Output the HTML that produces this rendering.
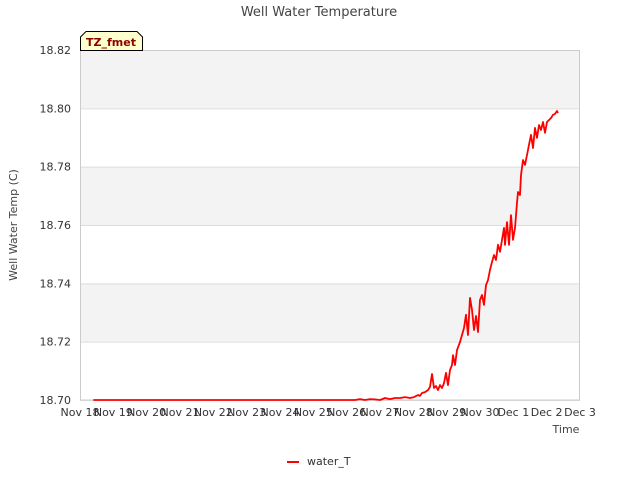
<!DOCTYPE html>
<html><head><meta charset="utf-8"><style>
body{margin:0;background:#fff;font-family:"Liberation Sans","DejaVu Sans",sans-serif}
svg text{font-family:"DejaVu Sans","Liberation Sans",sans-serif}
</style></head><body>
<svg id="chart" width="640" height="480" xmlns="http://www.w3.org/2000/svg">
<text x="319" y="16" text-anchor="middle" font-size="13" fill="#444">Well Water Temperature</text>
<g id="bands"></g>
<g id="grid"></g>
<rect x="80.5" y="50.5" width="499" height="349.5" fill="none" stroke="#ccc"/>
<g id="yticks"></g>
<g id="xticks"></g>
<text transform="translate(17,225) rotate(-90)" text-anchor="middle" font-size="11" fill="#444">Well Water Temp (C)</text>
<text x="566" y="433" text-anchor="middle" font-size="11" fill="#444">Time</text>
<g>
<path d="M80.5,50.5 L80.5,37 L86,31.5 L137,31.5 L142.5,37 L142.5,50.5 Z" fill="#ffffcc" stroke="#000"/>
<text x="111" y="46" text-anchor="middle" font-size="11" font-weight="bold" fill="#8b0000">TZ_fmet</text>
</g>
<path id="series" fill="none" stroke="#ff0000" stroke-width="1.8" stroke-linejoin="round"/>
<g>
<line x1="287" y1="462" x2="299" y2="462" stroke="#ff0000" stroke-width="2"/>
<text x="307" y="465" font-size="11" fill="#333">water_T</text>
</g>
</svg>
<script>
const xTickLabels=["Nov 18","Nov 19","Nov 20","Nov 21","Nov 22","Nov 23","Nov 24","Nov 25","Nov 26","Nov 27","Nov 28","Nov 29","Nov 30","Dec 1","Dec 2","Dec 3"];
const yTickValues=[18.70,18.72,18.74,18.76,18.78,18.80,18.82];
const days=[0.4,8.2,8.25,8.4,8.55,8.7,8.85,9.0,9.15,9.3,9.45,9.6,9.75,9.9,10.02,10.14,10.2,10.26,10.35,10.44,10.5,10.56,10.62,10.68,10.74,10.8,10.86,10.92,10.98,11.04,11.1,11.16,11.19,11.25,11.31,11.4,11.46,11.52,11.58,11.64,11.7,11.76,11.82,11.88,11.94,12.0,12.06,12.12,12.18,12.24,12.3,12.36,12.42,12.48,12.54,12.6,12.66,12.72,12.75,12.81,12.87,12.93,12.99,13.05,13.11,13.14,13.2,13.23,13.29,13.35,13.41,13.47,13.53,13.59,13.65,13.71,13.77,13.83,13.89,13.95,14.01,14.07,14.13,14.19,14.25,14.31,14.34];
const waterT=[18.7,18.7,18.7,18.7003,18.7,18.7003,18.7002,18.7,18.7007,18.7003,18.7007,18.7007,18.701,18.7007,18.701,18.7017,18.7014,18.7024,18.7027,18.7034,18.7045,18.7089,18.7041,18.7048,18.7034,18.7051,18.7041,18.7058,18.7093,18.7051,18.7103,18.712,18.7154,18.712,18.7171,18.7199,18.7223,18.7247,18.7292,18.7223,18.735,18.7309,18.724,18.7288,18.7233,18.7343,18.736,18.7326,18.7394,18.7411,18.7446,18.7473,18.7497,18.748,18.7532,18.7508,18.7549,18.759,18.7532,18.761,18.7532,18.7634,18.7549,18.759,18.7676,18.7713,18.7703,18.7771,18.7823,18.7806,18.784,18.7875,18.7909,18.7864,18.7933,18.7899,18.7943,18.7926,18.7953,18.7916,18.7953,18.796,18.7967,18.7978,18.7981,18.7991,18.7984];
const NS="http://www.w3.org/2000/svg";
const X0=80,X1=580,Y0=400,Y1=50;
const xs=d=>X0+(d/15)*(X1-X0);
const ys=v=>Y0-(v-18.70)/0.12*(Y0-Y1);
function mk(t,a,p){const e=document.createElementNS(NS,t);for(const k in a)e.setAttribute(k,a[k]);p.appendChild(e);return e;}
const bands=document.getElementById('bands'),grid=document.getElementById('grid');
for(let i=0;i<yTickValues.length-1;i++){
  const r=mk('rect',{x:80,y:ys(yTickValues[i+1]),width:500,height:ys(yTickValues[i])-ys(yTickValues[i+1]),fill:i%2?'#f3f3f3':'#ffffff'},bands);
  
  
}
const yt=document.getElementById('yticks');
yTickValues.forEach(v=>{
  const l=mk('line',{x1:80,x2:580,y1:ys(v)+0.5,y2:ys(v)+0.5,stroke:'#dddddd'},grid);
  
  
  const t=mk('text',{x:71,y:ys(v)+4,'text-anchor':'end','font-size':11,fill:'#333'},yt);
  
  
  t.textContent=v.toFixed(2);
});
const xt=document.getElementById('xticks');
xTickLabels.forEach((s,i)=>{
  const t=mk('text',{x:xs(i),y:416,'text-anchor':'middle','font-size':11,fill:'#333'},xt);
  
  
  t.textContent=s;
});
document.getElementById('series').setAttribute('d',days.map((d,i)=>(i?'L':'M')+xs(d).toFixed(1)+','+ys(waterT[i]).toFixed(1)).join(''));
</script>
</body></html>
